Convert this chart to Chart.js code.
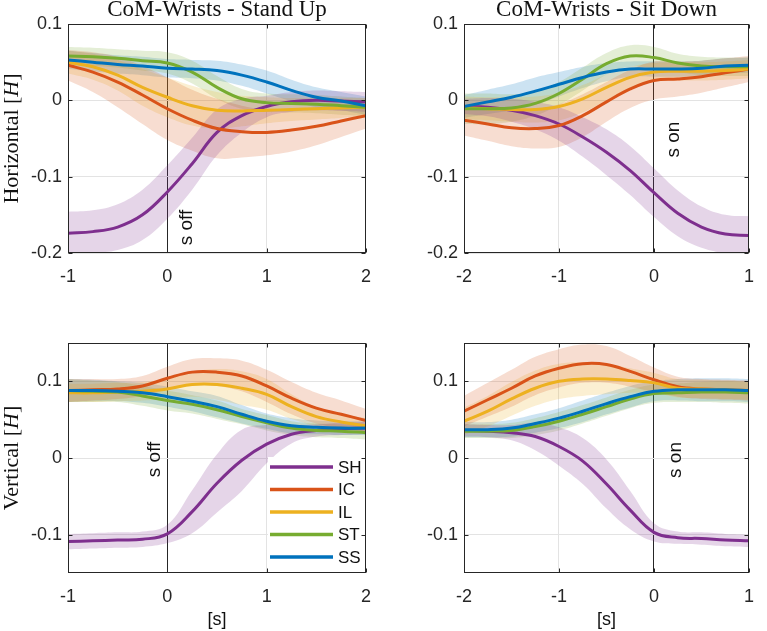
<!DOCTYPE html>
<html>
<head>
<meta charset="utf-8">
<script src="https://cdn.jsdelivr.net/npm/chart.js@4.4.0/dist/chart.umd.min.js"></script>
<style>
  body { margin: 0; background: #fff; width: 767px; height: 631px; position: relative; overflow: hidden; }
  canvas { position: absolute; }
</style>
</head>
<body>
<canvas id="standH" width="384" height="300" style="left:0;top:0"></canvas>
<canvas id="sitH" width="383" height="300" style="left:384px;top:0"></canvas>
<canvas id="standV" width="384" height="331" style="left:0;top:300px"></canvas>
<canvas id="sitV" width="383" height="331" style="left:384px;top:300px"></canvas>
<script>
// nhóm đối tượng, theo thứ tự vẽ
const seriesNames = ["SH", "IC", "IL", "ST", "SS"];
const seriesColors = ["#7E2F8E", "#D95319", "#EDB120", "#77AC30", "#0072BD"];

// trục thời gian [s]
const timeStandUp = [-1, -0.75, -0.5, -0.25, 0, 0.25, 0.5, 0.75, 1, 1.25, 1.5, 1.75, 2];
const timeSitDown = [-2, -1.75, -1.5, -1.25, -1, -0.75, -0.5, -0.25, 0, 0.25, 0.5, 0.75, 1];
const xTicksStandUp = [-1, 0, 1, 2];
const xTicksSitDown = [-2, -1, 0, 1];
const hTicks = [-0.2, -0.1, 0, 0.1];
const vTicks = [-0.1, 0, 0.1];

// Stand Up - Horizontal: trung bình (hàng theo SH, IC, IL, ST, SS)
const standHMean = [
  [-0.174, -0.172, -0.166, -0.150, -0.120, -0.083, -0.042, -0.020, -0.008, -0.002, 0.000, -0.001, -0.002],
  [0.046, 0.037, 0.024, 0.007, -0.011, -0.026, -0.037, -0.041, -0.042, -0.039, -0.034, -0.027, -0.020],
  [0.050, 0.044, 0.033, 0.017, 0.004, -0.007, -0.013, -0.014, -0.013, -0.012, -0.011, -0.010, -0.009],
  [0.058, 0.057, 0.055, 0.052, 0.049, 0.037, 0.017, 0.002, -0.003, -0.004, -0.005, -0.007, -0.009],
  [0.053, 0.050, 0.047, 0.045, 0.042, 0.041, 0.039, 0.033, 0.024, 0.013, 0.004, -0.001, -0.007],
];
const standHSd = [
  [0.028, 0.028, 0.030, 0.033, 0.035, 0.034, 0.030, 0.022, 0.014, 0.013, 0.013, 0.013, 0.013],
  [0.020, 0.026, 0.033, 0.038, 0.041, 0.040, 0.039, 0.034, 0.030, 0.028, 0.025, 0.021, 0.017],
  [0.015, 0.017, 0.020, 0.024, 0.026, 0.026, 0.024, 0.020, 0.017, 0.015, 0.014, 0.013, 0.012],
  [0.012, 0.012, 0.012, 0.013, 0.014, 0.015, 0.015, 0.013, 0.012, 0.012, 0.012, 0.012, 0.012],
  [0.012, 0.012, 0.012, 0.012, 0.012, 0.012, 0.013, 0.014, 0.015, 0.014, 0.013, 0.012, 0.012],
];

// Sit Down - Horizontal
const sitHMean = [
  [-0.008, -0.009, -0.013, -0.020, -0.031, -0.048, -0.068, -0.092, -0.121, -0.148, -0.166, -0.175, -0.177],
  [-0.026, -0.031, -0.036, -0.037, -0.033, -0.020, -0.002, 0.015, 0.026, 0.028, 0.031, 0.036, 0.041],
  [-0.010, -0.011, -0.012, -0.012, -0.008, 0.002, 0.017, 0.030, 0.037, 0.038, 0.038, 0.039, 0.041],
  [-0.011, -0.011, -0.010, -0.004, 0.009, 0.028, 0.048, 0.058, 0.056, 0.049, 0.045, 0.044, 0.044],
  [-0.008, -0.002, 0.004, 0.012, 0.021, 0.030, 0.037, 0.041, 0.041, 0.041, 0.042, 0.045, 0.046],
];
const sitHSd = [
  [0.010, 0.012, 0.015, 0.018, 0.022, 0.026, 0.030, 0.032, 0.032, 0.030, 0.027, 0.025, 0.025],
  [0.020, 0.022, 0.024, 0.026, 0.028, 0.028, 0.026, 0.025, 0.025, 0.023, 0.021, 0.019, 0.017],
  [0.015, 0.015, 0.016, 0.017, 0.018, 0.018, 0.017, 0.014, 0.012, 0.012, 0.012, 0.012, 0.012],
  [0.020, 0.020, 0.018, 0.016, 0.015, 0.015, 0.014, 0.014, 0.014, 0.012, 0.012, 0.012, 0.012],
  [0.015, 0.016, 0.017, 0.018, 0.016, 0.014, 0.012, 0.010, 0.010, 0.010, 0.010, 0.010, 0.010],
];

// Stand Up - Vertical
const standVMean = [
  [-0.109, -0.108, -0.107, -0.106, -0.099, -0.070, -0.033, -0.003, 0.018, 0.031, 0.036, 0.038, 0.039],
  [0.088, 0.089, 0.090, 0.094, 0.104, 0.112, 0.112, 0.107, 0.094, 0.078, 0.065, 0.057, 0.049],
  [0.085, 0.085, 0.086, 0.087, 0.090, 0.096, 0.096, 0.091, 0.083, 0.067, 0.054, 0.047, 0.042],
  [0.088, 0.087, 0.086, 0.081, 0.075, 0.070, 0.063, 0.054, 0.046, 0.039, 0.036, 0.035, 0.033],
  [0.088, 0.088, 0.087, 0.085, 0.080, 0.074, 0.067, 0.057, 0.048, 0.042, 0.040, 0.039, 0.039],
];
const standVSd = [
  [0.010, 0.010, 0.010, 0.010, 0.012, 0.028, 0.038, 0.040, 0.025, 0.012, 0.008, 0.008, 0.008],
  [0.015, 0.014, 0.013, 0.013, 0.015, 0.017, 0.018, 0.020, 0.021, 0.021, 0.020, 0.018, 0.015],
  [0.012, 0.012, 0.012, 0.012, 0.013, 0.016, 0.020, 0.022, 0.020, 0.016, 0.012, 0.010, 0.010],
  [0.015, 0.014, 0.013, 0.013, 0.013, 0.012, 0.012, 0.010, 0.010, 0.009, 0.009, 0.009, 0.009],
  [0.015, 0.014, 0.013, 0.013, 0.013, 0.013, 0.014, 0.012, 0.010, 0.010, 0.009, 0.009, 0.009],
];

// Sit Down - Vertical
const sitVMean = [
  [0.036, 0.035, 0.033, 0.028, 0.015, -0.004, -0.034, -0.068, -0.097, -0.104, -0.105, -0.107, -0.108],
  [0.061, 0.076, 0.091, 0.107, 0.117, 0.123, 0.122, 0.113, 0.102, 0.093, 0.090, 0.089, 0.088],
  [0.048, 0.061, 0.077, 0.091, 0.100, 0.103, 0.103, 0.101, 0.098, 0.091, 0.090, 0.089, 0.088],
  [0.035, 0.035, 0.036, 0.041, 0.048, 0.057, 0.067, 0.077, 0.084, 0.085, 0.086, 0.086, 0.085],
  [0.037, 0.037, 0.039, 0.045, 0.052, 0.061, 0.071, 0.080, 0.087, 0.089, 0.089, 0.089, 0.088],
];
const sitVSd = [
  [0.008, 0.008, 0.010, 0.018, 0.025, 0.030, 0.032, 0.025, 0.012, 0.008, 0.008, 0.008, 0.008],
  [0.020, 0.022, 0.024, 0.025, 0.025, 0.025, 0.024, 0.020, 0.016, 0.013, 0.013, 0.013, 0.013],
  [0.018, 0.020, 0.022, 0.023, 0.023, 0.022, 0.020, 0.016, 0.013, 0.012, 0.012, 0.012, 0.012],
  [0.009, 0.009, 0.010, 0.011, 0.012, 0.012, 0.012, 0.012, 0.012, 0.012, 0.013, 0.014, 0.014],
  [0.010, 0.010, 0.011, 0.012, 0.013, 0.014, 0.014, 0.014, 0.013, 0.014, 0.015, 0.015, 0.015],
];

Chart.defaults.font.family = "'Liberation Sans', Arial, sans-serif";

const AXIS_COLOR = "#262626";
const GRID_COLOR = "#e3e3e3";

const panels = [
  { id: "standH", time: timeStandUp, xTicks: xTicksStandUp, mean: standHMean, sd: standHSd,
    yMin: -0.2, yMax: 0.1, yTicks: hTicks, title: "CoM-Wrists - Stand Up", yLabel: "Horizontal",
    mark: "s off", markDx: 19, markY: -0.19, padTop: 24, padRight: 16, yWidth: 68, xHeight: 47 },
  { id: "sitH", time: timeSitDown, xTicks: xTicksSitDown, mean: sitHMean, sd: sitHSd,
    yMin: -0.2, yMax: 0.1, yTicks: hTicks, title: "CoM-Wrists - Sit Down",
    mark: "s on", markDx: 20, markY: -0.075, padTop: 24, padRight: 2, yWidth: 80, xHeight: 47 },
  { id: "standV", time: timeStandUp, xTicks: xTicksStandUp, mean: standVMean, sd: standVSd,
    yMin: -0.15, yMax: 0.15, yTicks: vTicks, yLabel: "Vertical", xLabel: "[s]", legend: true,
    mark: "s off", markDx: -13, markY: -0.025, padTop: 43, padRight: 16, yWidth: 68, xHeight: 58 },
  { id: "sitV", time: timeSitDown, xTicks: xTicksSitDown, mean: sitVMean, sd: sitVSd,
    yMin: -0.15, yMax: 0.15, yTicks: vTicks, xLabel: "[s]",
    mark: "s on", markDx: 22, markY: -0.026, padTop: 43, padRight: 2, yWidth: 80, xHeight: 58 },
];

function bandColor(hex) {
  const r = parseInt(hex.slice(1, 3), 16);
  const g = parseInt(hex.slice(3, 5), 16);
  const b = parseInt(hex.slice(5, 7), 16);
  return `rgba(${r},${g},${b},0.2)`;
}

// chữ, khung, vạch chia, chú thích
function decorPlugin(p) {
  return {
    id: "decor",
    afterDatasetsDraw(chart) {
      const ctx = chart.ctx;
      const a = chart.chartArea;
      const xs = chart.scales.x;
      const ys = chart.scales.y;
      ctx.save();

      // nhãn s off / s on
      ctx.fillStyle = "#111";
      ctx.font = "19px 'Liberation Sans', Arial, sans-serif";
      ctx.translate(xs.getPixelForValue(0) + p.markDx, ys.getPixelForValue(p.markY));
      ctx.rotate(-Math.PI / 2);
      ctx.textAlign = "left";
      ctx.textBaseline = "middle";
      ctx.fillText(p.mark, 0, 0);
      ctx.setTransform(1, 0, 0, 1, 0, 0);

      // chú thích
      if (p.legend) {
        const lx = 268, ly = 157;
        ctx.fillStyle = "#fff";
        ctx.fillRect(lx, ly, 98, 112);
        ctx.font = "17px 'Liberation Sans', Arial, sans-serif";
        ctx.textAlign = "left";
        ctx.textBaseline = "middle";
        seriesNames.forEach((name, i) => {
          const yy = ly + 10 + i * 22.5;
          ctx.strokeStyle = seriesColors[i];
          ctx.lineWidth = 3.5;
          ctx.beginPath();
          ctx.moveTo(270, yy);
          ctx.lineTo(333, yy);
          ctx.stroke();
          ctx.fillStyle = "#111";
          ctx.fillText(name, 338, yy + 1);
        });
      }

      // khung trục và vạch chia hướng vào trong
      ctx.strokeStyle = AXIS_COLOR;
      ctx.lineWidth = 1;
      const L = Math.round(a.left) + 0.5, R = Math.round(a.right) - 0.5;
      const T = Math.round(a.top) + 0.5, B = Math.round(a.bottom) - 0.5;
      ctx.strokeRect(L, T, R - L, B - T);
      ctx.beginPath();
      p.xTicks.forEach((v) => {
        const px = Math.round(xs.getPixelForValue(v)) + 0.5;
        ctx.moveTo(px, B); ctx.lineTo(px, B - 4);
        ctx.moveTo(px, T); ctx.lineTo(px, T + 4);
      });
      p.yTicks.forEach((v) => {
        const py = Math.round(ys.getPixelForValue(v)) + 0.5;
        ctx.moveTo(L, py); ctx.lineTo(L + 4, py);
        ctx.moveTo(R, py); ctx.lineTo(R - 4, py);
      });
      ctx.stroke();

      const cx = (a.left + a.right) / 2;
      const cy = (a.top + a.bottom) / 2;

      if (p.title) {
        ctx.fillStyle = "#111";
        ctx.font = "23px 'Liberation Serif', 'Times New Roman', serif";
        ctx.textAlign = "center";
        ctx.textBaseline = "alphabetic";
        ctx.fillText(p.title, cx, 16);
      }

      if (p.yLabel) {
        const serif = "'Liberation Serif', 'Times New Roman', serif";
        const parts = [
          { t: p.yLabel + " [", f: "22px " + serif },
          { t: "H", f: "italic 22px " + serif },
          { t: "]", f: "22px " + serif },
        ];
        let total = 0;
        parts.forEach((q) => { ctx.font = q.f; q.w = ctx.measureText(q.t).width; total += q.w; });
        ctx.translate(12, cy);
        ctx.rotate(-Math.PI / 2);
        ctx.fillStyle = "#111";
        ctx.textAlign = "left";
        ctx.textBaseline = "middle";
        let x = -total / 2;
        parts.forEach((q) => { ctx.font = q.f; ctx.fillText(q.t, x, 0); x += q.w; });
        ctx.setTransform(1, 0, 0, 1, 0, 0);
      }

      if (p.xLabel) {
        ctx.fillStyle = "#111";
        ctx.font = "18px 'Liberation Sans', Arial, sans-serif";
        ctx.textAlign = "center";
        ctx.textBaseline = "middle";
        ctx.fillText(p.xLabel, cx, 320);
      }
      ctx.restore();
    },
  };
}

function buildPanel(p) {
  const datasets = [];
  // dải độ lệch chuẩn: cận trên tô xuống cận dưới
  seriesNames.forEach((name, i) => {
    const m = p.mean[i];
    const s = p.sd[i];
    const common = {
      borderColor: "rgba(0,0,0,0)",
      borderWidth: 0,
      pointRadius: 0,
      tension: 0.4,
      backgroundColor: bandColor(seriesColors[i]),
      order: 10,
    };
    datasets.push({ ...common, label: name + " +sd", data: p.time.map((t, k) => ({ x: t, y: m[k] + s[k] })), fill: "+1" });
    datasets.push({ ...common, label: name + " -sd", data: p.time.map((t, k) => ({ x: t, y: m[k] - s[k] })), fill: false });
  });
  seriesNames.forEach((name, i) => {
    datasets.push({
      label: name,
      data: p.time.map((t, k) => ({ x: t, y: p.mean[i][k] })),
      borderColor: seriesColors[i],
      borderWidth: 3,
      pointRadius: 0,
      fill: false,
      tension: 0.4,
      order: 4 - i,
    });
  });

  new Chart(document.getElementById(p.id), {
    type: "line",
    data: { datasets },
    options: {
      responsive: false,
      animation: false,
      devicePixelRatio: 1,
      layout: { padding: { top: p.padTop, right: p.padRight, left: 0, bottom: 0 }, autoPadding: false },
      plugins: { legend: { display: false }, tooltip: { enabled: false } },
      scales: {
        x: {
          type: "linear",
          min: p.time[0],
          max: p.time[p.time.length - 1],
          afterBuildTicks: (s) => { s.ticks = p.xTicks.map((v) => ({ value: v })); },
          afterFit: (s) => { s.height = p.xHeight; },
          grid: {
            color: (c) => (c.tick && c.tick.value === 0 ? AXIS_COLOR : GRID_COLOR),
            drawTicks: false,
          },
          border: { display: false },
          ticks: { color: AXIS_COLOR, font: { size: 18 }, padding: 13, maxRotation: 0, autoSkip: false, callback: (v) => String(v) },
        },
        y: {
          min: p.yMin,
          max: p.yMax,
          afterBuildTicks: (s) => { s.ticks = p.yTicks.map((v) => ({ value: v })); },
          afterFit: (s) => { s.width = p.yWidth; },
          grid: { color: GRID_COLOR, drawTicks: false },
          border: { display: false },
          ticks: { color: AXIS_COLOR, font: { size: 18 }, padding: 6, autoSkip: false, callback: (v) => String(v) },
        },
      },
    },
    plugins: [decorPlugin(p)],
  });
}

panels.forEach(buildPanel);
</script>
</body>
</html>
